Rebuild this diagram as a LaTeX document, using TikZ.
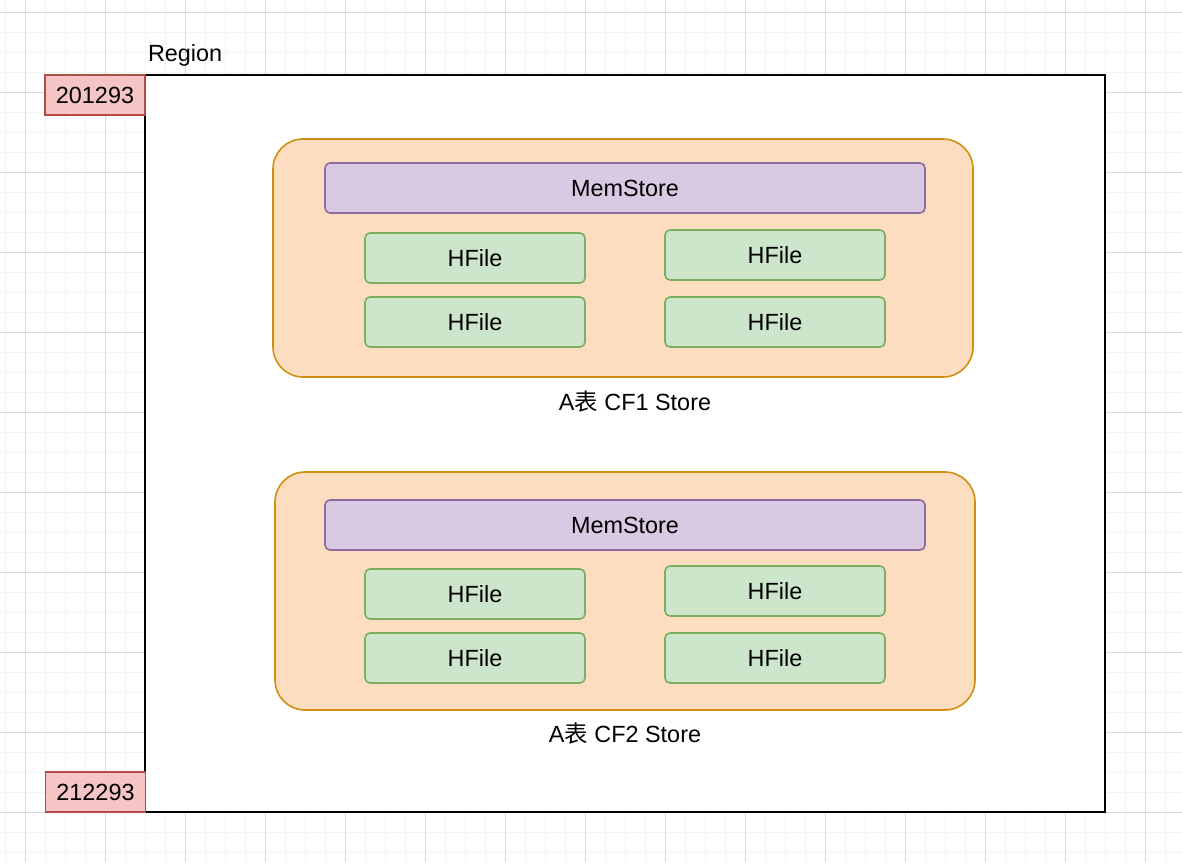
\documentclass[tikz,border=0pt]{standalone}
\usepackage{fontspec}
\setmainfont{Liberation Sans}
\newfontfamily\cjk{Noto Sans CJK SC}
\usetikzlibrary{positioning}

\definecolor{storefill}{HTML}{FCDDBF}
\definecolor{storeline}{HTML}{D08F10}
\definecolor{memfill}{HTML}{D9C9E2}
\definecolor{memline}{HTML}{8E6A9E}
\definecolor{filefill}{HTML}{CDE6CB}
\definecolor{fileline}{HTML}{7CAE60}
\definecolor{keyfill}{HTML}{F5C4C4}
\definecolor{keyline}{HTML}{B04B48}
\definecolor{gridminor}{HTML}{F4F4F4}
\definecolor{gridmajor}{HTML}{D9D9D9}

\tikzset{
  every node/.style={font=\fontsize{11.7}{14}\selectfont},
  storebox/.style={draw=storeline, fill=storefill, line width=0.8pt, rounded corners=15pt,
    minimum width=350pt, minimum height=119pt},
  membox/.style={draw=memline, fill=memfill, line width=0.8pt, rounded corners=2.5pt,
    minimum width=300pt, minimum height=25pt},
  filebox/.style={draw=fileline, fill=filefill, line width=0.8pt, rounded corners=2.5pt,
    minimum width=110pt, minimum height=25pt},
  keybox/.style={draw=keyline, fill=keyfill, line width=0.8pt,
    minimum width=50pt, minimum height=20pt}
}

\begin{document}
\begin{tikzpicture}[x=0.5pt, y=-0.5pt]
\useasboundingbox (0,0) rectangle (1182,862);

% Draw the grid
\foreach \gx in {5,25,...,1185} \draw[gridminor, line width=0.5pt] (\gx,0) -- (\gx,862);
\foreach \gy in {12,32,...,862} \draw[gridminor, line width=0.5pt] (0,\gy) -- (1182,\gy);
\foreach \gx in {25,105,...,1185} \draw[gridmajor, line width=0.5pt] (\gx,0) -- (\gx,862);
\foreach \gy in {12,92,...,862} \draw[gridmajor, line width=0.5pt] (0,\gy) -- (1182,\gy);

% Draw the region
\node[draw=black, fill=white, line width=1pt, minimum width=480pt, minimum height=368.5pt]
  (region) at (625,443.5) {};
\node[anchor=west] (regionlabel) at (141,55) {Region};

% Draw the row keys
\node[keybox] (startkey) at (95,95) {201293};
\node[keybox] (endkey) at (95.5,792) {212293};

% Draw the first store
\node[storebox] (store1) at (623,258) {};
\node[membox] (mem1) at (625,188) {MemStore};
\node[filebox] (hfile11) at (475,258) {HFile};
\node[filebox] (hfile12) at (475,322) {HFile};
\node[filebox] (hfile13) at (775,255) {HFile};
\node[filebox] (hfile14) at (775,322) {HFile};
\node (store1label) at (635,402) {A{\cjk 表} CF1 Store};

% Draw the second store
\node[storebox] (store2) at (625,591) {};
\node[membox] (mem2) at (625,525) {MemStore};
\node[filebox] (hfile21) at (475,594) {HFile};
\node[filebox] (hfile22) at (475,658) {HFile};
\node[filebox] (hfile23) at (775,591) {HFile};
\node[filebox] (hfile24) at (775,658) {HFile};
\node (store2label) at (625,734) {A{\cjk 表} CF2 Store};

\end{tikzpicture}
\end{document}
